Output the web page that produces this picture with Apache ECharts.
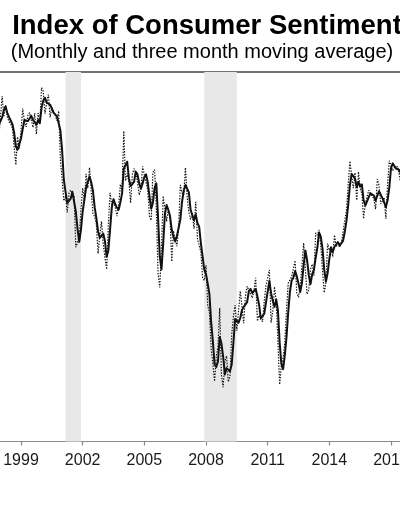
<!DOCTYPE html>
<html>
<head>
<meta charset="utf-8">
<script src="https://cdn.jsdelivr.net/npm/echarts@6.0.0/dist/echarts.min.js"></script>
<style>
  html, body { margin: 0; padding: 0; background: #fff; }
  #chart { width: 400px; height: 516px; }
</style>
</head>
<body>
<div id="chart"></div>
<script>
// months are counted from Jan 1999 (= 0); first value is Oct 1997
const firstMonth = -15;

// Index of Consumer Sentiment, monthly (Oct 1997 - Aug 2017)
const monthly = [
  105.6, 107.2, 102.1,
  106.6, 110.4, 106.5, 108.7, 106.5, 105.6, 105.2, 104.4, 100.9, 97.4, 102.7, 100.5,
  103.9, 108.1, 105.7, 104.6, 106.8, 107.3, 106.0, 104.5, 107.2, 103.2, 107.2, 105.4,
  112.0, 111.3, 107.1, 109.2, 110.7, 106.4, 108.3, 107.3, 106.8, 105.8, 107.6, 98.4,
  94.7, 90.6, 91.5, 88.4, 92.0, 92.6, 92.4, 91.5, 81.8, 82.7, 83.9, 88.8,
  93.0, 90.7, 95.7, 93.0, 96.9, 92.4, 88.1, 87.6, 86.1, 80.6, 84.2, 86.7,
  82.4, 79.9, 77.6, 86.0, 92.1, 89.7, 90.9, 89.3, 87.7, 89.6, 93.7, 92.6,
  103.8, 94.4, 95.8, 94.2, 90.2, 95.6, 96.7, 95.9, 94.2, 91.7, 92.8, 97.1,
  95.5, 94.1, 92.6, 87.7, 86.9, 96.0, 96.5, 89.1, 76.9, 74.2, 81.6, 91.5,
  91.2, 86.7, 88.9, 87.4, 79.1, 84.9, 84.7, 82.0, 85.4, 93.6, 92.1, 91.7,
  96.9, 91.3, 88.4, 87.1, 88.3, 85.3, 90.4, 83.4, 83.4, 80.9, 76.1, 75.5,
  78.4, 70.8, 69.5, 62.6, 59.8, 56.4, 61.2, 63.0, 70.3, 57.6, 55.3, 60.1,
  61.2, 56.3, 57.3, 65.1, 68.7, 70.8, 66.0, 65.7, 73.5, 70.6, 67.4, 72.5,
  74.4, 73.6, 73.6, 72.2, 73.6, 76.0, 67.8, 68.9, 68.2, 67.7, 71.6, 74.5,
  74.2, 77.5, 67.5, 69.8, 74.3, 71.5, 63.7, 55.8, 59.5, 60.8, 63.7, 69.9,
  75.0, 75.3, 76.2, 76.4, 79.3, 73.2, 72.3, 74.3, 78.3, 82.6, 82.7, 72.9,
  73.8, 77.6, 78.6, 76.4, 84.5, 84.1, 85.1, 82.1, 77.5, 73.2, 75.1, 82.5,
  81.2, 81.6, 80.0, 84.1, 81.9, 82.5, 81.8, 82.5, 84.6, 86.9, 88.8, 93.6,
  98.1, 95.4, 93.0, 95.9, 90.7, 96.1, 93.1, 91.9, 87.2, 90.0, 91.3, 92.6,
  92.0, 91.7, 91.0, 89.0, 94.7, 93.5, 90.0, 89.8, 91.2, 87.2, 93.8, 98.2,
  98.5, 96.3, 96.9, 97.0, 97.1, 95.1, 93.4, 96.8
];

// three month moving average, same months
const movingAvg = [
  null, null, 105.0,
  105.3, 106.4, 107.8, 108.5, 107.2, 106.9, 105.8, 105.1, 103.5, 100.9, 100.3, 100.2,
  102.4, 104.2, 105.9, 106.1, 105.7, 106.2, 106.7, 105.9, 105.9, 105.0, 105.9, 105.3,
  108.2, 109.6, 110.1, 109.2, 109.0, 108.8, 108.5, 107.3, 107.5, 106.6, 106.7, 103.9,
  100.2, 94.6, 92.3, 90.2, 90.6, 91.0, 92.3, 92.2, 88.6, 85.3, 82.8, 85.1,
  88.6, 90.8, 93.1, 93.1, 95.2, 94.1, 92.5, 89.4, 87.3, 84.8, 83.6, 83.8,
  84.4, 83.0, 80.0, 81.2, 85.2, 89.3, 90.9, 90.0, 89.3, 88.9, 90.3, 92.0,
  96.7, 96.9, 98.0, 94.8, 93.4, 93.3, 94.2, 96.1, 95.6, 93.9, 92.9, 93.9,
  95.1, 95.6, 94.1, 91.5, 89.1, 90.2, 93.1, 93.9, 87.5, 80.1, 77.6, 82.4,
  88.1, 89.8, 88.9, 87.7, 85.1, 83.8, 82.9, 83.9, 84.0, 87.0, 90.4, 92.5,
  93.6, 93.3, 92.2, 88.9, 87.9, 86.9, 88.0, 86.4, 85.7, 82.6, 80.1, 77.5,
  76.7, 74.9, 72.9, 67.6, 64.0, 59.6, 59.1, 60.2, 64.8, 63.6, 61.1, 57.7,
  58.9, 59.2, 58.3, 59.6, 63.7, 68.2, 68.5, 67.5, 68.4, 69.9, 70.5, 70.2,
  71.4, 73.5, 73.9, 73.1, 73.1, 73.9, 72.5, 70.9, 68.3, 68.3, 69.2, 71.3,
  73.4, 75.4, 73.1, 71.6, 70.5, 71.9, 69.8, 63.7, 59.7, 58.7, 61.3, 64.8,
  69.5, 73.4, 75.5, 76.0, 77.3, 76.3, 74.9, 73.3, 75.0, 78.4, 81.2, 79.4,
  76.5, 74.8, 76.7, 77.5, 79.8, 81.7, 84.6, 83.8, 81.6, 77.6, 75.3, 76.9,
  79.6, 81.8, 80.9, 81.9, 82.0, 82.8, 82.1, 82.3, 83.0, 84.7, 86.8, 89.8,
  93.5, 95.7, 95.5, 94.8, 93.2, 94.2, 93.3, 93.7, 90.7, 89.7, 89.5, 91.3,
  92.0, 92.1, 91.6, 90.6, 91.6, 92.4, 92.7, 91.1, 90.3, 89.4, 90.7, 93.1,
  96.8, 97.7, 97.2, 96.7, 97.0, 96.4, 95.2, 95.1
];

// recessions (first and last month)
const recessions = [
  ['2001-03', '2001-11'],
  ['2007-12', '2009-06']
];

// x axis tick labels every three years
const tickYears = [1996, 1999, 2002, 2005, 2008, 2011, 2014, 2017, 2020];

const monthIndex = s => {
  const [y, m] = s.split('-').map(Number);
  return (y - 1999) * 12 + (m - 1);
};

const toPoints = arr => arr.map((v, i) => [firstMonth + i, v]);

const xMin = (tickYears[0] - 1999) * 12;
const xMax = (tickYears[tickYears.length - 1] - 1999) * 12;
const pxPerMonth = 1.713;
// the plot runs past both edges of the page, like the cropped original
const gridLeft = 21 + xMin * pxPerMonth;
const gridWidth = (xMax - xMin) * pxPerMonth;

const font = 'Liberation Sans, Arial, Helvetica, sans-serif';

const chart = echarts.init(document.getElementById('chart'), null, { renderer: 'canvas' });

chart.setOption({
  animation: false,
  backgroundColor: '#fff',
  title: [
    {
      text: 'Index of Consumer Sentiment',
      left: 207,
      top: 12,
      padding: 0,
      textAlign: 'center',
      textStyle: { fontFamily: font, fontSize: 27.5, fontWeight: 'bold', color: '#000' }
    },
    {
      text: '(Monthly and three month moving average)',
      left: 202,
      top: 42,
      padding: 0,
      textAlign: 'center',
      textStyle: { fontFamily: font, fontSize: 20, fontWeight: 'normal', color: '#000' }
    }
  ],
  grid: {
    left: gridLeft,
    width: gridWidth,
    top: 72,
    bottom: 74.5,
    containLabel: false,
    outerBoundsMode: 'none'
  },
  xAxis: [
    {
      type: 'value',
      min: xMin,
      max: xMax,
      interval: 36,
      axisLine: { show: true, onZero: false, lineStyle: { color: '#8a8a8a', width: 1.2 } },
      axisTick: { show: true, length: 4, lineStyle: { color: '#8a8a8a', width: 1.2 } },
      axisLabel: {
        margin: 11,
        fontFamily: font,
        fontSize: 16,
        color: '#1a1a1a',
        formatter: v => String(1999 + v / 12)
      },
      splitLine: { show: false }
    },
    {
      type: 'value',
      position: 'top',
      min: xMin,
      max: xMax,
      axisLine: { show: true, onZero: false, lineStyle: { color: '#444', width: 1.5 } },
      axisTick: { show: false },
      axisLabel: { show: false },
      splitLine: { show: false }
    }
  ],
  yAxis: {
    type: 'value',
    min: 45,
    max: 115,
    show: false,
    splitLine: { show: false }
  },
  series: [
    {
      type: 'line',
      data: [],
      z: 1,
      silent: true,
      markArea: {
        silent: true,
        itemStyle: { color: '#e8e8e8' },
        data: recessions.map(r => [
          { xAxis: monthIndex(r[0]) },
          { xAxis: monthIndex(r[1]) + 1 }
        ])
      }
    },
    {
      name: 'Monthly',
      type: 'line',
      z: 2,
      data: toPoints(monthly),
      symbol: 'none',
      lineStyle: { color: '#111', width: 1.2, type: [1.4, 1.4] }
    },
    {
      name: 'Three month moving average',
      type: 'line',
      z: 3,
      data: toPoints(movingAvg),
      symbol: 'none',
      connectNulls: false,
      lineStyle: { color: '#111', width: 2, join: 'round' }
    }
  ]
});
</script>
</body>
</html>
